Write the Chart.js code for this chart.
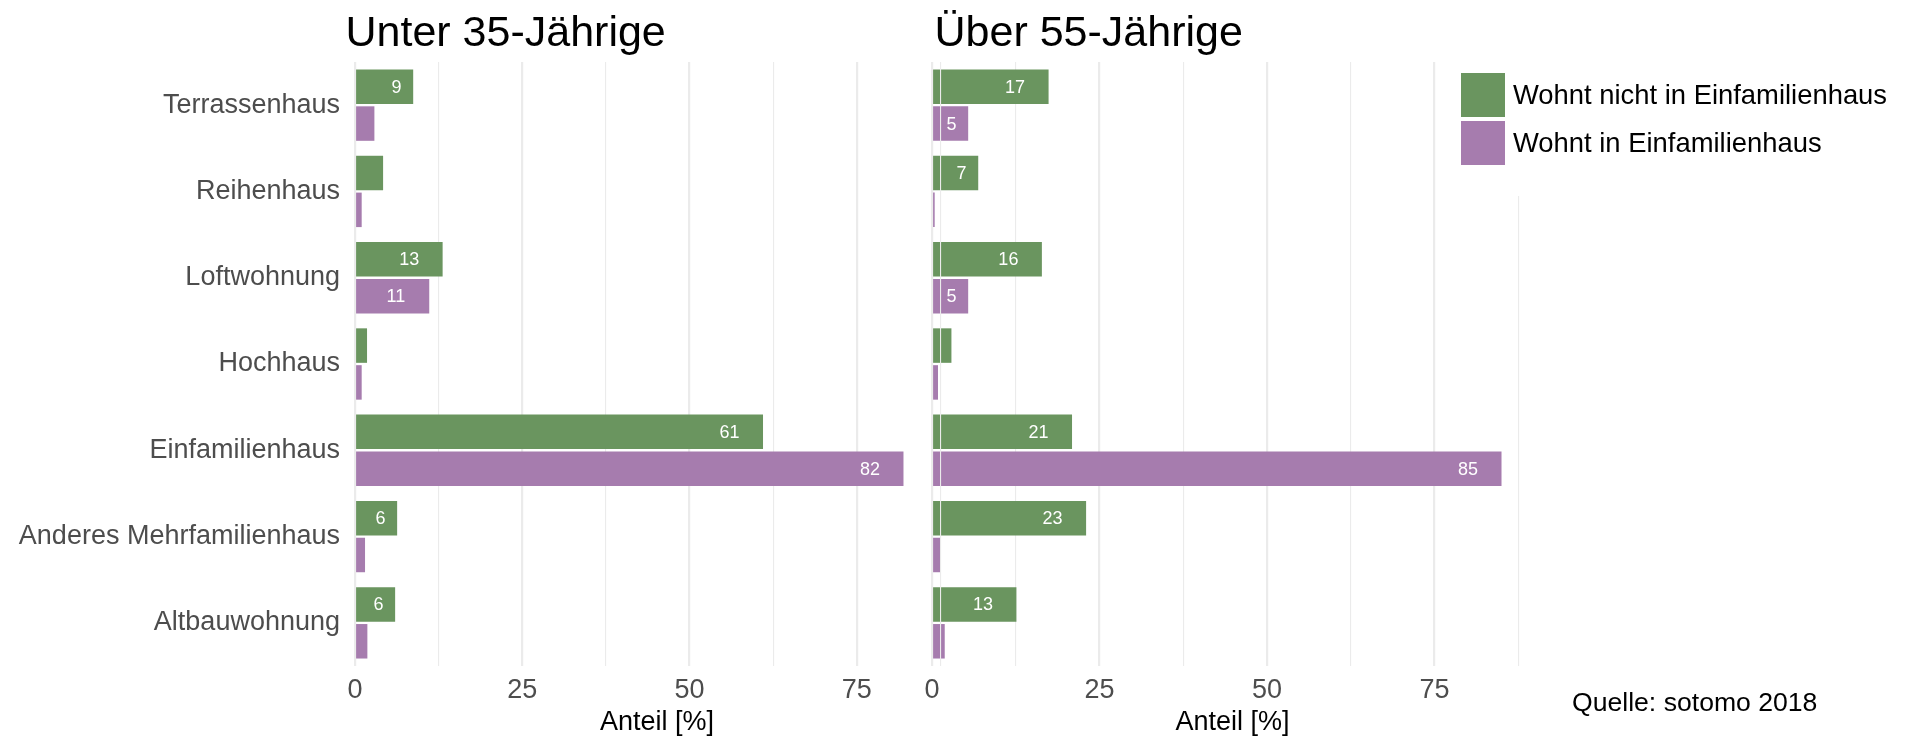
<!DOCTYPE html>
<html>
<head>
<meta charset="utf-8">
<script src="https://cdn.jsdelivr.net/npm/chart.js@4.4.1/dist/chart.umd.min.js"></script>
<style>
  html, body { margin: 0; padding: 0; background: #ffffff; overflow: hidden; }
  #wrap { position: relative; width: 1906px; height: 739px; }
  canvas { position: absolute; left: 0; top: 0; }
</style>
</head>
<body>
<div id="wrap">
  <canvas id="right" width="1906" height="739"></canvas>
  <canvas id="left" width="1906" height="739"></canvas>
</div>
<script>
// ---- data ----
const categories = ['Terrassenhaus', 'Reihenhaus', 'Loftwohnung', 'Hochhaus', 'Einfamilienhaus', 'Anderes Mehrfamilienhaus', 'Altbauwohnung'];
const seriesNames = ['Wohnt nicht in Einfamilienhaus', 'Wohnt in Einfamilienhaus'];
const under35Not = [8.7, 4.2, 13.1, 1.8, 61.0, 6.3, 6.0];
const under35In  = [2.9, 1.0, 11.1, 1.0, 82.0, 1.5, 1.85];
const over55Not  = [17.4, 6.9, 16.4, 2.9, 20.9, 23.0, 12.6];
const over55In   = [5.4, 0.4, 5.4, 0.9, 85.0, 1.3, 1.9];
const panelTitles = ['Unter 35-Jährige', 'Über 55-Jährige'];
const xTickValues = [0, 25, 50, 75];
const axisTitle = 'Anteil [%]';
const sourceNote = 'Quelle: sotomo 2018';

// ---- style ----
const FONT = "'Liberation Sans', Arial, Helvetica, sans-serif";
const GREEN = '#6A955F';
const PURPLE = '#A67CAE';
const GRID = '#EBEBEB';
const AXIS_TEXT = '#4D4D4D';
Chart.defaults.font.family = FONT;

const barLabels = {
  id: 'barLabels',
  afterDatasetsDraw(chart, args, o) {
    const ctx = chart.ctx, xs = chart.scales.x;
    ctx.save();
    ctx.font = o.size + 'px ' + FONT;
    ctx.fillStyle = '#ffffff';
    ctx.textAlign = 'center';
    ctx.textBaseline = 'middle';
    chart.data.datasets.forEach((ds, di) => {
      chart.getDatasetMeta(di).data.forEach((bar, i) => {
        const v = ds.data[i];
        if (v < o.min) return;
        const t = String(Math.round(v));
        ctx.fillText(t, xs.getPixelForValue(v - o.shift * t.length), bar.y + 1);
      });
    });
    ctx.restore();
  }
};

const panelTitle = {
  id: 'panelTitle',
  afterDraw(chart, args, o) {
    const ctx = chart.ctx;
    ctx.save();
    ctx.font = o.size + 'px ' + FONT;
    ctx.fillStyle = '#000000';
    ctx.textAlign = 'left';
    ctx.textBaseline = 'alphabetic';
    ctx.fillText(o.text, chart.chartArea.left + o.dx, o.y);
    ctx.restore();
  }
};

const sideLegend = {
  id: 'sideLegend',
  afterDraw(chart, args, o) {
    if (!o.display) return;
    const ctx = chart.ctx;
    ctx.save();
    ctx.fillStyle = '#ffffff';
    ctx.fillRect(o.boxX, 0, chart.width - o.boxX, o.boxBottom);
    ctx.font = o.size + 'px ' + FONT;
    ctx.textAlign = 'left';
    ctx.textBaseline = 'middle';
    chart.data.datasets.forEach((ds, i) => {
      const y = o.top + i * (o.key + o.gap);
      ctx.fillStyle = ds.backgroundColor;
      ctx.fillRect(o.x, y, o.key, o.key);
      ctx.fillStyle = '#000000';
      ctx.fillText(ds.label, o.x + o.key + 8, y + o.key / 2 + 1);
    });
    ctx.font = o.noteSize + 'px ' + FONT;
    ctx.textBaseline = 'alphabetic';
    ctx.fillText(o.note, o.noteX, o.noteY);
    ctx.restore();
  }
};

function makeChart(id, notData, inData, opts) {
  return new Chart(document.getElementById(id), {
    type: 'bar',
    data: {
      labels: categories,
      datasets: [
        { label: seriesNames[0], data: notData, backgroundColor: GREEN },
        { label: seriesNames[1], data: inData, backgroundColor: PURPLE }
      ]
    },
    plugins: [barLabels, panelTitle, sideLegend],
    options: {
      indexAxis: 'y',
      responsive: false,
      animation: false,
      devicePixelRatio: 1,
      layout: { padding: { left: opts.padLeft, right: opts.padRight, top: 62, bottom: 0 } },
      datasets: { bar: { categoryPercentage: 0.854, barPercentage: 0.936 } },
      plugins: {
        legend: { display: false },
        tooltip: { enabled: false },
        barLabels: { size: 18, min: 5, shift: 2.5 },
        panelTitle: { text: opts.title, size: 43, dx: opts.titleDx, y: 46 },
        sideLegend: {
          display: opts.legend, boxX: 1440, boxBottom: 196,
          x: 1461, top: 73, key: 44, gap: 4, size: 27.4,
          note: sourceNote, noteX: 1572, noteY: 711, noteSize: 26.6
        }
      },
      scales: {
        x: {
          type: 'linear',
          position: 'bottom',
          min: 0,
          max: opts.max,
          afterFit: s => { s.height = 73; },
          border: { display: false },
          grid: {
            color: GRID,
            drawTicks: false,
            lineWidth: c => (xTickValues.includes(c.tick.value) ? 2.2 : 1.1)
          },
          ticks: {
            stepSize: 12.5,
            includeBounds: false,
            autoSkip: false,
            maxRotation: 0,
            padding: 8,
            color: AXIS_TEXT,
            font: { size: 27 },
            callback: v => (xTickValues.includes(v) ? String(v) : '')
          },
          title: {
            display: true,
            text: axisTitle,
            color: '#000000',
            font: { size: 27 },
            padding: { top: 0, bottom: 0 }
          }
        },
        y: {
          type: 'category',
          display: opts.showY,
          afterFit: s => { s.width = opts.yWidth; },
          border: { display: false },
          grid: { display: false, drawTicks: false },
          ticks: { padding: 15, color: AXIS_TEXT, font: { size: 27 }, autoSkip: false }
        }
      }
    }
  });
}

makeChart('right', over55Not, over55In, {
  padLeft: 932, padRight: 1906 - 1533, max: 89.7, yWidth: 0, showY: false,
  title: panelTitles[1], titleDx: 2.5, legend: true
});
makeChart('left', under35Not, under35In, {
  padLeft: 0, padRight: 1906 - 959, max: 90.3, yWidth: 355, showY: true,
  title: panelTitles[0], titleDx: -9.5, legend: false
});
</script>
</body>
</html>
